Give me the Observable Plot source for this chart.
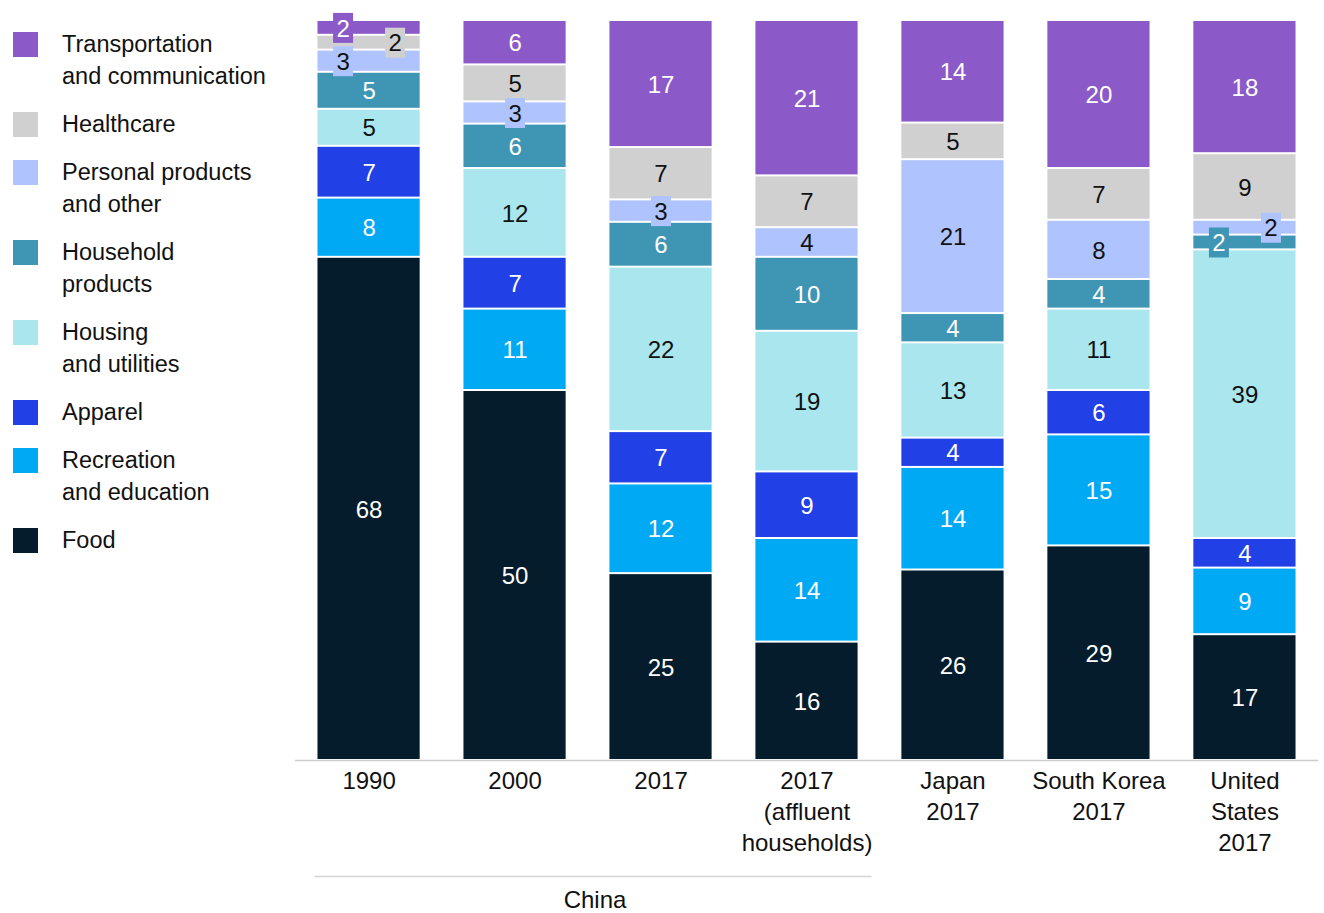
<!DOCTYPE html>
<html><head><meta charset="utf-8">
<script src="https://cdn.jsdelivr.net/npm/d3@7"></script>
<script src="https://cdn.jsdelivr.net/npm/@observablehq/plot@0.6"></script>
<style>
body{margin:0;background:#fff;font-family:"Liberation Sans",Arial,sans-serif;}
#wrap{position:relative;width:1324px;height:913px;}
#legend{position:absolute;left:13px;top:28px;font-size:23.5px;line-height:32px;color:#111;}
.item{display:flex;align-items:flex-start;margin-bottom:16px;}
.sw{width:25px;height:25px;margin-top:4px;margin-right:24px;flex:none;}
</style></head><body><div id="wrap"><div id="legend"></div><div id="chart"></div></div>
<script>
// ---- data ----
const groups = ["1990", "2000", "2017", "2017\n(affluent\nhouseholds)", "Japan\n2017", "South Korea\n2017", "United\nStates\n2017"];
const categories = ["Food", "Recreation and education", "Apparel", "Housing and utilities", "Household products", "Personal products and other", "Healthcare", "Transportation and communication"];
const legendLabels = ["Transportation<br>and communication", "Healthcare", "Personal products<br>and other", "Household<br>products", "Housing<br>and utilities", "Apparel", "Recreation<br>and education", "Food"];
const colors = ["#051c2c", "#00a9f4", "#2140e6", "#a9e6ee", "#3f96b4", "#afc3ff", "#d0d0d0", "#8c5ac8"];
const darkTextCategories = ["Housing and utilities", "Personal products and other", "Healthcare"];

const food       = [68, 50, 25, 16, 26, 29, 17];
const recreation = [8, 11, 12, 14, 14, 15, 9];
const apparel    = [7, 7, 7, 9, 4, 6, 4];
const housing    = [5, 12, 22, 19, 13, 11, 39];
const household  = [5, 6, 6, 10, 4, 4, 2];
const personal   = [3, 3, 3, 4, 21, 8, 2];
const healthcare = [2, 5, 7, 7, 5, 7, 9];
const transport  = [2, 6, 17, 21, 14, 20, 18];
const series = [food, recreation, apparel, housing, household, personal, healthcare, transport];

// labels drawn on a small box: [group index, category index]
const boxedLeft   = [[0, 7], [0, 5], [6, 4]];
const boxedCenter = [[1, 5], [2, 5]];
const boxedRight  = [[0, 6], [6, 5]];

const groupLabel = "China";

// ---- build table (stack, normalized to 100) ----
const rows = [];
groups.forEach((g, gi) => {
  const total = d3.sum(series, s => s[gi]);
  let cum = 0;
  categories.forEach((c, ci) => {
    const v = series[ci][gi];
    const y1 = cum / total * 100, y2 = (cum + v) / total * 100;
    cum += v;
    const side = boxedLeft.some(([a, b]) => a === gi && b === ci) ? -1
      : boxedRight.some(([a, b]) => a === gi && b === ci) ? 1
      : boxedCenter.some(([a, b]) => a === gi && b === ci) ? 0 : null;
    rows.push({group: g, category: c, value: v, y1, y2, mid: (y1 + y2) / 2, side, dark: darkTextCategories.includes(c)});
  });
});

// legend
const legend = document.getElementById("legend");
legendLabels.forEach((l, i) => {
  const ci = categories.length - 1 - i;
  const it = document.createElement("div");
  it.className = "item";
  it.innerHTML = `<div class="sw" style="background:${colors[ci]}"></div><div>${l}</div>`;
  legend.appendChild(it);
});

const boxSymbol = {draw(ctx) { ctx.rect(-10, -15, 20, 30); }};
const OFF = 26;
const textMarks = [];
for (const [side, dx] of [[null, 0], [-1, -OFF], [0, 0], [1, OFF]]) {
  const sub = rows.filter(d => d.side === side);
  if (side !== null) {
    textMarks.push(Plot.dot(sub, {x: "group", y: "mid", fill: "category", symbol: boxSymbol, dx}));
  }
  textMarks.push(Plot.text(sub.filter(d => !d.dark), {x: "group", y: "mid", text: d => String(d.value), fill: "#fff", dx, dy: 1, fontSize: 24}));
  textMarks.push(Plot.text(sub.filter(d => d.dark), {x: "group", y: "mid", text: d => String(d.value), fill: "#111", dx, dy: 1, fontSize: 24}));
}

const chart = Plot.plot({
  width: 1324,
  height: 913,
  marginTop: 20,
  marginBottom: 153,
  marginLeft: 295,
  marginRight: 6,
  style: {fontFamily: "Liberation Sans, Arial, sans-serif", fontSize: "24px", background: "#fff"},
  x: {domain: groups, paddingInner: 0.3, paddingOuter: 0.154, round: false, axis: null},
  y: {domain: [0, 100], axis: null},
  color: {domain: categories, range: colors},
  marks: [
    Plot.barY(rows, {x: "group", y1: "y1", y2: "y2", fill: "category", insetTop: 1, insetBottom: 1}),
    Plot.ruleY([0], {stroke: "#cccccc", strokeWidth: 1.5}),
    ...textMarks,
    Plot.text(groups, {x: d => d, y: d => 0, text: d => d, lineAnchor: "top", dy: 7, lineHeight: 1.29, fill: "#111", fontSize: 24}),
    Plot.ruleY([0], {x1: d => groups[0], x2: d => groups[3], dy: 116, stroke: "#d4d4d4", strokeWidth: 1.5, insetLeft: -3, insetRight: -14}),
    Plot.text([groupLabel], {x: d => groups[1], y: d => 0, text: d => d, dx: 80, dy: 140, fill: "#111", fontSize: 24})
  ]
});
document.getElementById("chart").appendChild(chart);
</script></body></html>
